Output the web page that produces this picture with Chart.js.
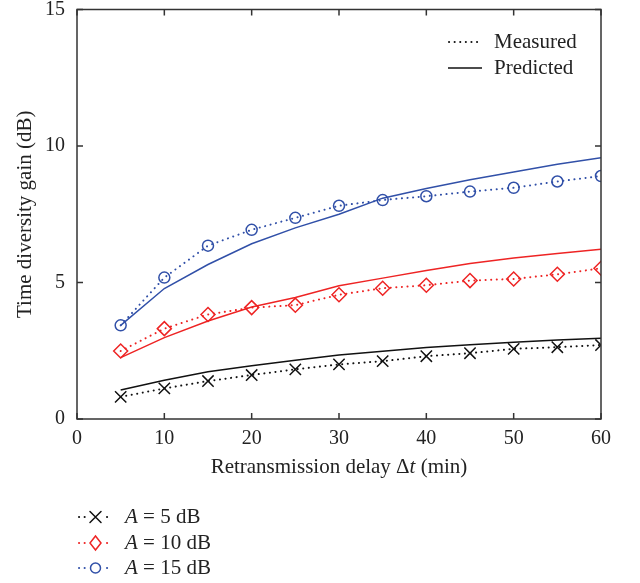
<!DOCTYPE html>
<html lang="en">
<head>
  <meta charset="UTF-8" />
  <title>Time diversity gain</title>
  <script src="https://cdn.jsdelivr.net/npm/chart.js"></script>
  <style>
    html, body { margin: 0; padding: 0; background: #fff; }
    #wrap { width: 640px; height: 583px; }
  </style>
</head>
<body>
  <div id="wrap"><canvas id="chart"></canvas></div>

  <script>
    // data
    const delays = [5, 10, 15, 20, 25, 30, 35, 40, 45, 50, 55, 60];
    const measured5  = [0.81, 1.12, 1.39, 1.61, 1.82, 2.00, 2.12, 2.30, 2.41, 2.57, 2.63, 2.71];
    const predicted5 = [1.06, 1.42, 1.73, 1.95, 2.15, 2.34, 2.48, 2.62, 2.72, 2.81, 2.89, 2.96];
    const measured10  = [2.49, 3.31, 3.83, 4.08, 4.17, 4.55, 4.79, 4.90, 5.07, 5.13, 5.30, 5.52];
    const predicted10 = [2.25, 2.98, 3.59, 4.10, 4.45, 4.88, 5.16, 5.44, 5.70, 5.90, 6.06, 6.22];
    const measured15  = [3.43, 5.18, 6.35, 6.93, 7.37, 7.81, 8.02, 8.16, 8.33, 8.47, 8.70, 8.90];
    const predicted15 = [3.43, 4.78, 5.66, 6.42, 7.00, 7.50, 8.09, 8.44, 8.76, 9.05, 9.33, 9.57];
    const xTicks = [0, 10, 20, 30, 40, 50, 60];
    const yTicks = [0, 5, 10, 15];
    const seriesNames = ['5', '10', '15'];

    const BLACK = '#111111';
    const RED = '#ee2424';
    const BLUE = '#3150a8';
    const FONT = '"Liberation Serif", "DejaVu Serif", serif';
    const DOTS = [0.1, 5.5];

    const pts = vals => vals.map((v, i) => ({ x: delays[i], y: v }));

    function measuredSet(vals, color, style, radius) {
      return {
        data: pts(vals), borderColor: color, backgroundColor: 'rgba(0,0,0,0)',
        borderWidth: 2, borderDash: DOTS, borderCapStyle: 'round',
        pointStyle: style, pointRadius: radius, pointBorderWidth: 1.5,
        pointBorderColor: color, pointBackgroundColor: 'rgba(0,0,0,0)', tension: 0
      };
    }
    function predictedSet(vals, color) {
      return {
        data: pts(vals), borderColor: color, borderWidth: 1.5,
        pointRadius: 0, tension: 0, fill: false
      };
    }

    function drawMarker(ctx, style, x, y, color) {
      ctx.save();
      ctx.strokeStyle = color;
      ctx.lineWidth = 1.5;
      ctx.setLineDash([]);
      ctx.beginPath();
      if (style === 'circle') {
        ctx.arc(x, y, 5, 0, Math.PI * 2);
      } else if (style === 'rectRot') {
        ctx.moveTo(x, y - 7); ctx.lineTo(x + 5.5, y); ctx.lineTo(x, y + 7); ctx.lineTo(x - 5.5, y); ctx.closePath();
      } else {
        ctx.moveTo(x - 5.5, y - 5.5); ctx.lineTo(x + 5.5, y + 5.5);
        ctx.moveTo(x + 5.5, y - 5.5); ctx.lineTo(x - 5.5, y + 5.5);
      }
      ctx.stroke();
      ctx.restore();
    }

    // frame, inward ticks, x title and both legends
    const decorations = {
      id: 'decorations',
      afterDraw(chart) {
        const ctx = chart.ctx;
        const a = chart.chartArea;
        const xs = chart.scales.x, ys = chart.scales.y;
        ctx.save();
        ctx.strokeStyle = '#333';
        ctx.lineWidth = 1.5;
        ctx.strokeRect(a.left, a.top, a.right - a.left, a.bottom - a.top);
        ctx.beginPath();
        xTicks.forEach(t => {
          const px = xs.getPixelForValue(t);
          ctx.moveTo(px, a.bottom); ctx.lineTo(px, a.bottom - 6);
          ctx.moveTo(px, a.top); ctx.lineTo(px, a.top + 6);
        });
        yTicks.forEach(t => {
          const py = ys.getPixelForValue(t);
          ctx.moveTo(a.left, py); ctx.lineTo(a.left + 6, py);
          ctx.moveTo(a.right, py); ctx.lineTo(a.right - 6, py);
        });
        ctx.stroke();

        // x axis title with italic t
        ctx.fillStyle = '#222';
        ctx.textBaseline = 'middle';
        const parts = [
          ['Retransmission delay \u0394', '21px ' + FONT],
          ['t', 'italic 21px ' + FONT],
          [' (min)', '21px ' + FONT]
        ];
        let total = 0;
        parts.forEach(p => { ctx.font = p[1]; total += ctx.measureText(p[0]).width; });
        let tx = (a.left + a.right) / 2 - total / 2;
        ctx.textAlign = 'left';
        parts.forEach(p => { ctx.font = p[1]; ctx.fillText(p[0], tx, 467); tx += ctx.measureText(p[0]).width; });

        // legend inside the plot
        ctx.strokeStyle = BLACK;
        ctx.lineWidth = 2;
        ctx.lineCap = 'round';
        ctx.setLineDash(DOTS);
        ctx.beginPath(); ctx.moveTo(449, 42); ctx.lineTo(481, 42); ctx.stroke();
        ctx.setLineDash([]);
        ctx.lineCap = 'butt';
        ctx.lineWidth = 1.5;
        ctx.beginPath(); ctx.moveTo(448, 68); ctx.lineTo(482, 68); ctx.stroke();
        ctx.font = '21px ' + FONT;
        ctx.fillText('Measured', 494, 42);
        ctx.fillText('Predicted', 494, 68);

        // legend below the chart
        const rows = [
          { color: BLACK, style: 'crossRot', y: 517 },
          { color: RED, style: 'rectRot', y: 543 },
          { color: BLUE, style: 'circle', y: 568 }
        ];
        rows.forEach((r, i) => {
          ctx.strokeStyle = r.color;
          ctx.lineWidth = 2;
          ctx.lineCap = 'round';
          ctx.setLineDash(DOTS);
          ctx.beginPath(); ctx.moveTo(79, r.y); ctx.lineTo(112, r.y); ctx.stroke();
          ctx.setLineDash([]);
          ctx.fillStyle = '#fff';
          ctx.fillRect(88, r.y - 8, 15, 16);
          drawMarker(ctx, r.style, 95.5, r.y, r.color);
          ctx.fillStyle = '#222';
          ctx.font = 'italic 21px ' + FONT;
          ctx.fillText('A', 125, r.y);
          const w = ctx.measureText('A').width;
          ctx.font = '21px ' + FONT;
          ctx.fillText(' = ' + seriesNames[i] + ' dB', 125 + w, r.y);
        });
        ctx.restore();
      }
    };

    new Chart(document.getElementById('chart'), {
      type: 'line',
      data: {
        datasets: [
          measuredSet(measured5, BLACK, 'crossRot', 8),
          predictedSet(predicted5, BLACK),
          measuredSet(measured10, RED, 'rectRot', 7),
          predictedSet(predicted10, RED),
          measuredSet(measured15, BLUE, 'circle', 5.5),
          predictedSet(predicted15, BLUE)
        ]
      },
      options: {
        responsive: true,
        maintainAspectRatio: false,
        animation: false,
        layout: { padding: { left: 0, right: 39, top: 8, bottom: 104 } },
        plugins: { legend: { display: false }, tooltip: { enabled: false } },
        scales: {
          x: {
            type: 'linear', min: 0, max: 60,
            grid: { display: false, drawTicks: false }, border: { display: false },
            ticks: { stepSize: 10, padding: 8, color: '#222', font: { family: FONT, size: 20 } },
            afterFit: s => { s.height = 60; s.paddingLeft = 0; s.paddingRight = 0; }
          },
          y: {
            min: 0, max: 15,
            grid: { display: false, drawTicks: false }, border: { display: false },
            ticks: { stepSize: 5, padding: 12, color: '#222', font: { family: FONT, size: 20 } },
            title: { display: true, text: 'Time diversity gain (dB)', color: '#222',
                     padding: { top: 13, bottom: 0 }, font: { family: FONT, size: 21 } },
            afterFit: s => { s.width = 77; s.paddingTop = 0; s.paddingBottom = 0; }
          }
        }
      },
      plugins: [decorations]
    });
  </script>
</body>
</html>
